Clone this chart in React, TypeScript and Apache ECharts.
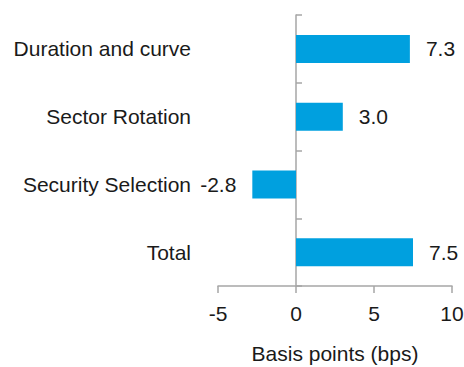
import React, { useEffect, useRef } from "react";
import * as echarts from "echarts";

const categories = ["Duration and curve", "Sector Rotation", "Security Selection", "Total"];
const values = [7.3, 3.0, -2.8, 7.5];
const xMin = -5;
const xMax = 10;
const xInterval = 5;
const axisName = "Basis points (bps)";

const FONT = "Arial, 'Liberation Sans', sans-serif";
const GREY = "#a6a6a6";
const FS = 21;

export default function App() {
  const ref = useRef<HTMLDivElement>(null);
  useEffect(() => {
    if (!ref.current) return;
    const chart = echarts.init(ref.current, undefined, { renderer: "svg" });
    chart.setOption({
      animation: false,
      grid: { left: 218, right: 12, top: 15, bottom: 81, containLabel: false, outerBoundsMode: "none" },
      xAxis: {
        type: "value",
        min: xMin,
        max: xMax,
        interval: xInterval,
        name: axisName,
        nameLocation: "middle",
        nameGap: 57,
        nameTextStyle: { fontFamily: FONT, fontSize: FS, color: "#1a1a1a" },
        axisLine: { show: true, lineStyle: { color: GREY, width: 1.5 } },
        axisTick: { show: true, length: 7, lineStyle: { color: GREY, width: 1.5 } },
        splitLine: { show: false },
        axisLabel: { fontFamily: FONT, fontSize: FS, color: "#1a1a1a", margin: 17 },
      },
      yAxis: {
        type: "category",
        inverse: true,
        data: categories,
        axisLine: { show: true, onZero: true, lineStyle: { color: GREY, width: 1.5 } },
        axisTick: { show: true, inside: true, length: 6, lineStyle: { color: GREY, width: 1.5 } },
        splitLine: { show: false },
        axisLabel: { fontFamily: FONT, fontSize: FS, color: "#1a1a1a", margin: 27 },
      },
      series: [
        {
          type: "bar",
          barWidth: 28,
          itemStyle: { color: "#00A0DF" },
          data: values.map((v) => ({
            value: v,
            label: {
              show: true,
              position: v >= 0 ? "right" : "left",
              distance: 16,
              formatter: (p: any) => Number(p.value).toFixed(1),
              fontFamily: FONT,
              fontSize: FS,
              color: "#1a1a1a",
            },
          })),
        },
      ],
    });
    return () => chart.dispose();
  }, []);
  return (
    <div
      ref={ref}
      style={{ position: "absolute", left: 0, top: 0, width: 464, height: 367, background: "#fff" }}
    />
  );
}
